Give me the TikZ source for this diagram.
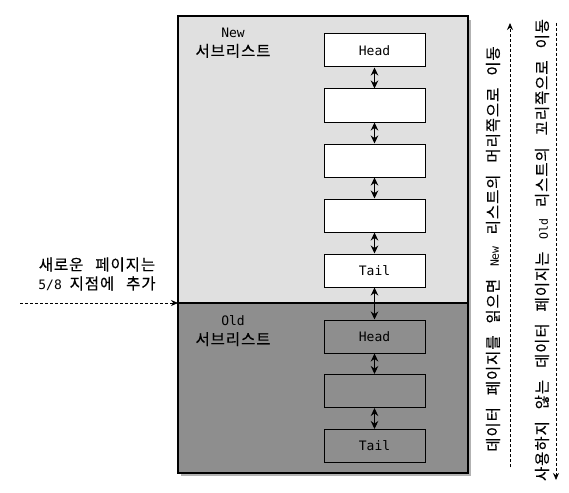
\documentclass[tikz,border=0pt]{standalone}
\usepackage{fontspec}
\setmainfont{DejaVu Sans Mono}
\newfontfamily\kr[LetterSpace=6,WordSpace=2.7,FakeBold=0.3]{Noto Sans CJK KR}
\newcommand{\krtext}{\kr\fontsize{15.5}{19}\selectfont}
\newcommand{\smallmono}{\rmfamily\fontsize{11.5}{14}\selectfont}
\usetikzlibrary{arrows.meta}
\definecolor{lightpart}{HTML}{E0E0E0}
\definecolor{darkpart}{HTML}{8E8E8E}
\begin{document}
\begin{tikzpicture}[x=1pt,y=-1pt,
  txt/.style={font=\fontsize{13}{19}\selectfont, align=center, inner sep=0pt},
  listbox/.style={draw, line width=1pt, minimum width=101pt, minimum height=33pt, inner sep=0pt, font=\fontsize{13}{15}\selectfont},
  link/.style={{Stealth[length=8pt,width=7.5pt]}-{Stealth[length=8pt,width=7.5pt]}, line width=1pt},
  dashedarrow/.style={-{Stealth[length=7pt,width=6pt]}, line width=0.8pt, dash pattern=on 3pt off 2pt}
]
\useasboundingbox (0,0) rectangle (569,492);
% shadow
\fill[black!30] (181,20) rectangle (471,476);
\node[fill=lightpart, minimum width=290pt, minimum height=287pt, inner sep=0pt, outer sep=0pt, anchor=north west] (newpart) at (178,16) {};
\node[fill=darkpart, minimum width=290pt, minimum height=170pt, inner sep=0pt, outer sep=0pt, anchor=north west] (oldpart) at (178,303) {};
\draw[line width=1.4pt] (newpart.north west) rectangle (oldpart.south east);
\draw[line width=1.2pt] (newpart.south west) -- (newpart.south east);

\node[txt] (newlbl) at (233,43) {New\\{\krtext 서브리스트}};
\node[txt] (oldlbl) at (233,331) {Old\\{\krtext 서브리스트}};

\node[listbox, fill=white] (n1) at (374.5,50.5) {Head};
\node[listbox, fill=white] (n2) at (374.5,105.5) {};
\node[listbox, fill=white] (n3) at (374.5,160.5) {};
\node[listbox, fill=white] (n4) at (374.5,215.5) {};
\node[listbox, fill=white] (n5) at (374.5,270.5) {Tail};
\node[listbox] (o1) at (374.5,336.5) {Head};
\node[listbox] (o2) at (374.5,391) {};
\node[listbox] (o3) at (374.5,446) {Tail};

\draw[link] (n1) -- (n2);
\draw[link] (n2) -- (n3);
\draw[link] (n3) -- (n4);
\draw[link] (n4) -- (n5);
\draw[link] (n5) -- (o1);
\draw[link] (o1) -- (o2);
\draw[link] (o2) -- (o3);

\node[txt] (insert) at (97,274) {{\krtext 새로운 페이지는}\\5/8 {\krtext 지점에 추가}};
\coordinate (insstart) at (20,303);
\draw[dashedarrow] (insstart) -- (newpart.south west);

\node[txt, rotate=90] (t1) at (493,249) {\krtext 데이터 페이지를 읽으면 {\smallmono New} 리스트의 머리쪽으로 이동};
\coordinate (a1s) at (510,467);
\coordinate (a1e) at (510,23);
\draw[dashedarrow] (a1s) -- (a1e);

\node[txt, rotate=90] (t2) at (542,250) {\krtext 사용하지 않는 데이터 페이지는 {\smallmono Old} 리스트의 꼬리쪽으로 이동};
\coordinate (a2s) at (556,23);
\coordinate (a2e) at (556,480);
\draw[dashedarrow] (a2s) -- (a2e);
\end{tikzpicture}
\end{document}
